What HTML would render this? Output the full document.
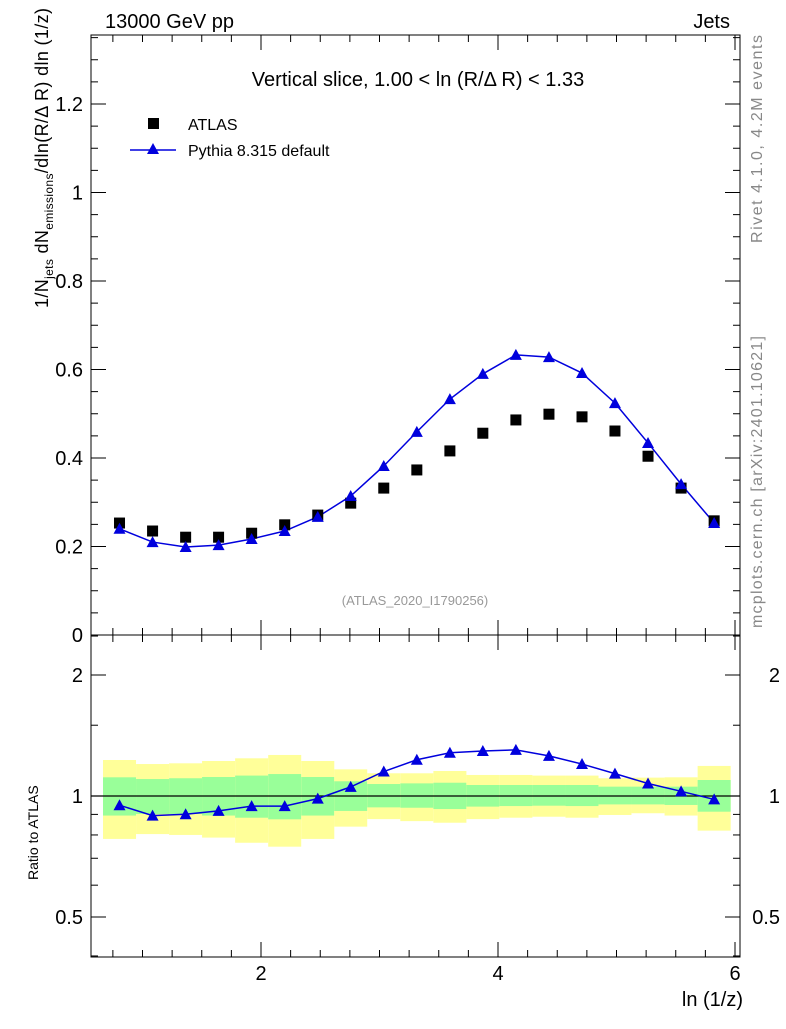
<!DOCTYPE html>
<html><head><meta charset="utf-8"><style>
body{margin:0;background:#fff;font-family:"Liberation Sans",sans-serif}
svg text{font-family:"Liberation Sans",sans-serif}
</style></head><body>
<svg id="c" width="786" height="1024" xmlns="http://www.w3.org/2000/svg">
<rect width="786" height="1024" fill="#fff"/>
<g id="bands"></g>
<g id="marks"></g>
<g id="axes" stroke="#000" fill="none" stroke-width="1"></g>
<rect x="91" y="35" width="649" height="600" fill="none" stroke="#000"/>
<rect x="91" y="635" width="649" height="322" fill="none" stroke="#000"/>
<text x="105" y="28" font-size="20">13000 GeV pp</text>
<text x="730" y="28" font-size="20" text-anchor="end">Jets</text>
<text x="418" y="86" font-size="20" text-anchor="middle">Vertical slice, 1.00 &lt; ln (R/Δ R) &lt; 1.33</text>
<rect x="148" y="118" width="11" height="11" fill="#000"/>
<text x="188" y="130" font-size="16">ATLAS</text>
<line x1="130" y1="150" x2="176" y2="150" stroke="#0000dd" stroke-width="1.5"/>
<polygon points="153,143 147,154 159,154" fill="#0000dd"/>
<text x="188" y="156" font-size="16">Pythia 8.315 default</text>
<text x="415" y="605" font-size="13" fill="#999" text-anchor="middle">(ATLAS_2020_I1790256)</text>
<text transform="translate(762,243) rotate(-90)" font-size="16" fill="#888" textLength="208">Rivet 4.1.0,  4.2M events</text>
<text transform="translate(762,628) rotate(-90)" font-size="16" fill="#888" textLength="292">mcplots.cern.ch [arXiv:2401.10621]</text>
<text transform="translate(48,308) rotate(-90)" font-size="18" textLength="300">1/N<tspan font-size="12" dy="5">jets</tspan><tspan dy="-5"> dN</tspan><tspan font-size="12" dy="5">emissions</tspan><tspan dy="-5">/dln(R/Δ R) dln (1/z)</tspan></text>
<text transform="translate(38,880) rotate(-90)" font-size="14">Ratio to ATLAS</text>
<text x="743" y="1006" font-size="20" text-anchor="end">ln (1/z)</text>
</svg>
<script>
const xCenters=[0.806,1.085,1.364,1.642,1.921,2.200,2.479,2.757,3.036,3.315,3.594,3.872,4.151,4.430,4.709,4.987,5.266,5.545,5.824];
const atlas=[0.253,0.235,0.221,0.221,0.230,0.249,0.271,0.298,0.332,0.373,0.416,0.456,0.486,0.499,0.493,0.461,0.404,0.332,0.258];
const pythia=[0.240,0.210,0.199,0.203,0.217,0.235,0.267,0.314,0.382,0.459,0.533,0.590,0.633,0.628,0.592,0.524,0.434,0.341,0.253];
const yelTop=[1.229,1.201,1.206,1.222,1.241,1.265,1.222,1.165,1.139,1.139,1.154,1.128,1.128,1.124,1.124,1.107,1.111,1.113,1.188];
const yelBot=[0.782,0.804,0.800,0.788,0.765,0.748,0.782,0.839,0.876,0.866,0.858,0.876,0.883,0.888,0.883,0.897,0.906,0.894,0.820];
const grnTop=[1.113,1.102,1.107,1.115,1.124,1.134,1.115,1.088,1.071,1.075,1.079,1.065,1.065,1.065,1.065,1.055,1.055,1.055,1.096];
const grnBot=[0.894,0.902,0.902,0.894,0.883,0.875,0.894,0.918,0.937,0.935,0.928,0.941,0.944,0.946,0.944,0.953,0.953,0.950,0.914];
const xTicks=[2,4,6];
const yTicks=[0,0.2,0.4,0.6,0.8,1,1.2];
const rTicks=[0.5,1,2];
const binW=0.2787;
const NS='http://www.w3.org/2000/svg';
const X=v=>261+(v-2)*118.5;
const Y=v=>635-v*442.5;
const R=v=>796-Math.log2(v)*121;
function mk(tag,attrs,parent){const e=document.createElementNS(NS,tag);for(const k in attrs)e.setAttribute(k,attrs[k]);parent.appendChild(e);return e;}
const bands=document.getElementById('bands'),marks=document.getElementById('marks'),axes=document.getElementById('axes'),svg=document.getElementById('c');
xCenters.forEach((c,i)=>{
  const x0=X(c-binW/2),x1=X(c+binW/2);
  let e=mk('rect',{x:x0,y:R(yelTop[i]),width:x1-x0,height:R(yelBot[i])-R(yelTop[i]),fill:'#ffff99'},bands);
  
  
  e=mk('rect',{x:x0,y:R(grnTop[i]),width:x1-x0,height:R(grnBot[i])-R(grnTop[i]),fill:'#99ff99'},bands);
  
  
});
let ln=mk('line',{x1:91,x2:740,y1:R(1),y2:R(1),stroke:'#000','stroke-width':1.2},bands);


let pts=xCenters.map((c,i)=>X(c)+','+Y(pythia[i])).join(' ');
let pl=mk('polyline',{points:pts,fill:'none',stroke:'#0000dd','stroke-width':1.5},marks);


pts=xCenters.map((c,i)=>X(c)+','+R(pythia[i]/atlas[i])).join(' ');
pl=mk('polyline',{points:pts,fill:'none',stroke:'#0000dd','stroke-width':1.5},marks);


function tri(x,y,name){const p=mk('polygon',{points:`${x},${y-6} ${x-6},${y+5} ${x+6},${y+5}`,fill:'#0000dd'},marks);

}
xCenters.forEach((c,i)=>{
  const s=mk('rect',{x:X(c)-5.5,y:Y(atlas[i])-5.5,width:11,height:11,fill:'#000'},marks);
  
  
  tri(X(c),Y(pythia[i]),'pythia-point');
  tri(X(c),R(pythia[i]/atlas[i]),'ratio-point');
});
function t(x,y,s,anchor,name){const e=mk('text',{x:x,y:y,'font-size':20,'text-anchor':anchor},svg);e.textContent=s;

}
function tk(x1,y1,x2,y2){mk('line',{x1,y1,x2,y2},axes);}
xTicks.forEach(v=>{const x=X(v);tk(x,635,x,620);tk(x,35,x,50);tk(x,957,x,942);tk(x,635,x,650);t(x,980,String(v),'middle','x-tick-label');});
for(let v=0.75;v<6.05;v+=0.25){const x=X(v);tk(x,635,x,628);tk(x,35,x,42);tk(x,957,x,950);tk(x,635,x,642);}
yTicks.forEach(v=>{const y=Y(v);tk(91,y,106,y);tk(740,y,725,y);t(83,y+7,String(v),'end','y-tick-label');});
for(let v=0;v<1.36;v+=0.05){const y=Y(v);tk(91,y,98,y);tk(740,y,733,y);}
rTicks.forEach(v=>{const y=R(v);tk(91,y,106,y);tk(740,y,725,y);t(83,y+7,String(v),'end','ratio-tick-label');t(780,y+7,String(v),'end','ratio-tick-label-right');});
[0.4,0.6,0.7,0.8,0.9,1.5,2.5].forEach(v=>{const y=R(v);if(y>636&&y<956){tk(91,y,98,y);tk(740,y,733,y);}});
</script>
</body></html>
